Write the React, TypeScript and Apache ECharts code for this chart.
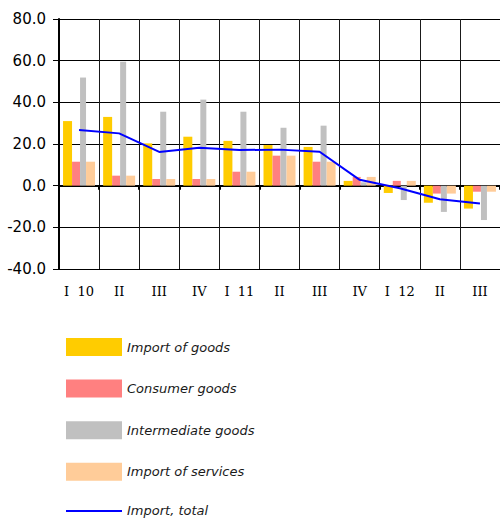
import React, { useEffect, useRef } from "react";
import * as echarts from "echarts";

const categories = ["I  10", "II", "III", "IV", "I  11", "II", "III", "IV", "I  12", "II", "III"];
const importOfGoods = [31.0, 33.0, 20.3, 23.5, 21.5, 19.5, 18.6, 2.3, -3.5, -8.2, -11.0];
const consumerGoods = [11.5, 4.8, 3.2, 3.2, 6.7, 14.4, 11.5, 4.2, 2.3, -3.8, -2.9];
const intermediateGoods = [51.9, 59.5, 35.5, 41.3, 35.5, 27.8, 28.8, 1.6, -6.9, -12.6, -16.5];
const importOfServices = [11.5, 4.8, 3.2, 3.2, 6.7, 14.4, 11.5, 4.2, 2.3, -3.8, -2.9];
const importTotal = [26.7, 25.1, 16.2, 18.2, 17.1, 17.3, 16.3, 2.8, -1.2, -6.5, -8.6];

export default function App() {
  const ref = useRef<HTMLDivElement>(null);
  useEffect(() => {
    document.body.style.margin = "0";
    const chart = echarts.init(ref.current!, undefined, { renderer: "svg" });
    chart.setOption({
      animation: false,
      backgroundColor: "#ffffff",
      textStyle: { fontFamily: "DejaVu Sans" },
      grid: { left: 59, top: 19, right: -3, height: 250, containLabel: false },
      legend: {
        orient: "vertical",
        left: 66,
        top: 338,
        height: 182,
        padding: 0,
        itemWidth: 56,
        itemHeight: 18,
        itemGap: 23.6,
        selectedMode: false,
        textStyle: { fontStyle: "italic", fontFamily: "DejaVu Sans", fontSize: 13, color: "#1a1a1a" },
        data: [
          { name: "Import of goods", icon: "rect" },
          { name: "Consumer goods", icon: "rect" },
          { name: "Intermediate goods", icon: "rect" },
          { name: "Import of services", icon: "rect" },
          { name: "Import, total", icon: "path://M0,0H56V2H0Z" },
        ],
      },
      xAxis: [
        {
          type: "category",
          data: categories,
          position: "bottom",
          axisLine: { show: false, onZero: false },
          axisTick: { show: false },
          axisLabel: { fontFamily: "DejaVu Serif", fontSize: 13, color: "#000", margin: 16, interval: 0 },
          splitLine: { show: true, interval: 0, lineStyle: { color: "#1a1a1a", width: 1 } },
        },
        {
          type: "category",
          data: categories,
          position: "bottom",
          axisLine: { show: true, onZero: true, lineStyle: { color: "#000", width: 2 } },
          axisTick: { show: true, length: 4, interval: 0, lineStyle: { color: "#000", width: 2 } },
          axisLabel: { show: false },
          splitLine: { show: false },
        },
      ],
      yAxis: {
        type: "value",
        min: -40,
        max: 80,
        interval: 20,
        axisLine: { show: true, onZero: false, lineStyle: { color: "#000", width: 2 } },
        axisTick: { show: true, length: 6, lineStyle: { color: "#000", width: 1 } },
        axisLabel: {
          fontFamily: "DejaVu Sans",
          fontSize: 15,
          color: "#000",
          margin: 13,
          formatter: (v: number) => v.toFixed(1),
        },
        splitLine: { show: true, lineStyle: { color: "#000", width: 1 } },
      },
      series: [
        { name: "Import of goods", type: "bar", data: importOfGoods, barWidth: 9, barGap: "0%", itemStyle: { color: "#FFCC00" } },
        { name: "Consumer goods", type: "bar", data: consumerGoods, barWidth: 8, barGap: "0%", itemStyle: { color: "#FF8080" } },
        { name: "Intermediate goods", type: "bar", data: intermediateGoods, barWidth: 6, barGap: "0%", itemStyle: { color: "#C0C0C0" } },
        { name: "Import of services", type: "bar", data: importOfServices, barWidth: 9, barGap: "0%", itemStyle: { color: "#FFCC99" } },
        {
          name: "Import, total",
          type: "line",
          data: importTotal,
          symbol: "none",
          showSymbol: false,
          z: 5,
          lineStyle: { color: "#0000FF", width: 2 },
          itemStyle: { color: "#0000FF" },
        },
      ],
    });
    return () => chart.dispose();
  }, []);
  return <div ref={ref} style={{ width: 500, height: 520 }} />;
}
